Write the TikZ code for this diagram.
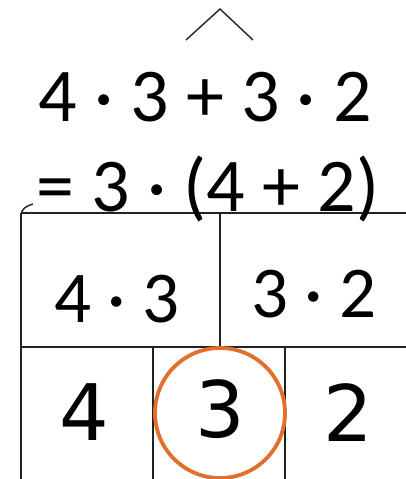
\documentclass[tikz,border=0pt]{standalone}
\usepackage{fontspec}
\setmainfont{Carlito}
\newfontfamily\handfont{DejaVu Sans}
\definecolor{ringorange}{HTML}{E2702C}
\definecolor{linegray}{HTML}{222222}
\begin{document}
\begin{tikzpicture}[x=1pt,y=-1pt,
  gridline/.style={draw=linegray,line width=1.6pt},
  bigtext/.style={font=\fontsize{76}{80}\selectfont,inner sep=0pt,anchor=base},
  celltext/.style={font=\fontsize{73}{80}\selectfont,inner sep=0pt,anchor=base},
  handtext/.style={font=\handfont\fontsize{78}{80}\selectfont,inner sep=0pt},
  ring/.style={draw=ringorange,line width=3.8pt}]
\useasboundingbox (0,0) rectangle (406,479);
% caret
\coordinate (cl) at (186,40);
\coordinate (ca) at (220,9);
\coordinate (cr) at (253,40);
\draw[draw=linegray,line width=1.4pt] (cl) -- (ca) -- (cr);
% table lines
\coordinate (tl) at (21,213);
\coordinate (tr) at (406,213);
\coordinate (bl) at (21,479);
\coordinate (ml) at (21,347);
\coordinate (mr) at (406,347);
\coordinate (dt) at (220,213);
\coordinate (db) at (220,347);
\coordinate (v1t) at (153,347);
\coordinate (v1b) at (153,479);
\coordinate (v2t) at (285,347);
\coordinate (v2b) at (285,479);
\draw[gridline] (tl) -- (tr);
\draw[gridline] (tl) -- (bl);
\draw[gridline] (ml) -- (mr);
\draw[gridline] (dt) -- (db);
\draw[gridline] (v1t) -- (v1b);
\draw[gridline] (v2t) -- (v2b);
\coordinate (k1) at (21,216);
\coordinate (k2) at (33,204);
\draw[draw=linegray,line width=1.4pt] (k1) .. controls (21,209) and (26,206) .. (k2);
% texts
\node[bigtext] (e1) at (205,121) {4 · 3 + 3 · 2};
\node[bigtext] (e2) at (208,211) {= 3 · (4 + 2)};
\node[celltext] (c1) at (117,322) {4 · 3};
\node[celltext] (c2) at (314,317) {3 · 2};
\node[handtext] (n1) at (84,412) {4};
\node[handtext] (n2) at (220,409) {3};
\node[handtext] (n3) at (348,413) {2};
\draw[ring] (220,413) circle (65);
\end{tikzpicture}
\end{document}
